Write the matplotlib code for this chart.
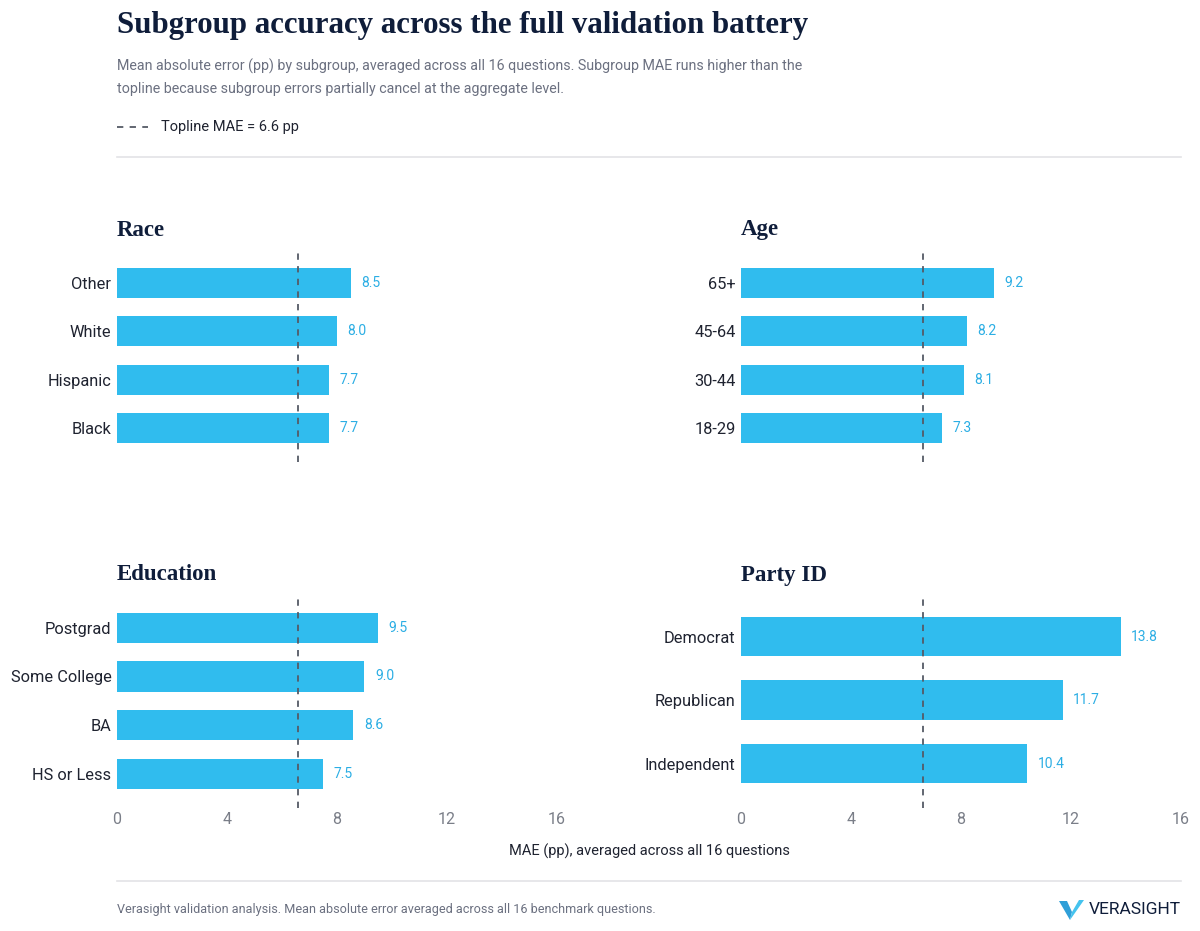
import matplotlib
matplotlib.use("Agg")
import matplotlib.pyplot as plt
from matplotlib.patches import Polygon
from matplotlib.lines import Line2D

# ---- data ----
race_labels = ["Other", "White", "Hispanic", "Black"]
race_values = [8.5, 8.0, 7.7, 7.7]
age_labels = ["65+", "45-64", "30-44", "18-29"]
age_values = [9.2, 8.2, 8.1, 7.3]
edu_labels = ["Postgrad", "Some College", "BA", "HS or Less"]
edu_values = [9.5, 9.0, 8.6, 7.5]
party_labels = ["Democrat", "Republican", "Independent"]
party_values = [13.8, 11.7, 10.4]
topline_mae = 6.6
x_ticks = [0, 4, 8, 12, 16]

SANS = ["Roboto", "DejaVu Sans"]
SERIF = ["Liberation Serif", "DejaVu Serif"]
NAVY = "#0f1d3a"
DARK = "#1f2330"
GRAY = "#6b7080"
TICK = "#7a7e88"
BAR = "#30bcee"
LBL = "#2caee4"
W, H = 1200, 931

fig = plt.figure(figsize=(W / 100, H / 100), dpi=100)
fig.patch.set_facecolor("white")


def fx(px):
    return px / W


def fy(py):
    return 1 - py / H


# header
fig.text(fx(117), fy(25), "Subgroup accuracy across the full validation battery",
         family=SERIF, weight="bold", fontsize=22.2, color=NAVY, va="center", ha="left")
fig.text(fx(117), fy(66), "Mean absolute error (pp) by subgroup, averaged across all 16 questions. "
         "Subgroup MAE runs higher than the", family=SANS, fontsize=10.25, color=GRAY,
         va="center", ha="left")
fig.text(fx(117), fy(89), "topline because subgroup errors partially cancel at the aggregate level.",
         family=SANS, fontsize=10.25, color=GRAY, va="center", ha="left")
fig.add_artist(Line2D([fx(117), fx(148)], [fy(127), fy(127)], color="#555a66", lw=1.3,
                      linestyle=(0, (3.5, 3.5)), transform=fig.transFigure))
fig.text(fx(161), fy(127), "Topline MAE = 6.6 pp", family=SANS, fontsize=10.5, color=DARK,
         va="center", ha="left")
fig.add_artist(Line2D([fx(117), fx(1181)], [fy(157), fy(157)], color="#e3e3e6", lw=1.2,
                      transform=fig.transFigure))


def panel(left_px, top_px, bottom_px, title, labels, values, show_ticks):
    ax = fig.add_axes([fx(left_px), fy(bottom_px), fx(440), (bottom_px - top_px) / H])
    n = len(labels)
    y = list(range(n))
    ax.barh(y, values, height=0.62, color=BAR, zorder=2)
    ax.axvline(topline_mae, color="#555a66", lw=1.3, linestyle=(0, (3.5, 3.5)), zorder=3)
    ax.set_xlim(0, 16)
    ax.set_ylim(n - 1 + 0.7, -0.61)
    ax.set_yticks(y)
    ax.set_yticklabels(labels, family=SANS, fontsize=11.8, color=DARK)
    for s in ax.spines.values():
        s.set_visible(False)
    ax.tick_params(axis="y", length=0, pad=4)
    ax.set_xticks(x_ticks)
    if show_ticks:
        ax.set_xticklabels([str(t) for t in x_ticks], family=SANS, fontsize=11.5, color=TICK)
        ax.tick_params(axis="x", length=0, pad=3)
    else:
        ax.tick_params(axis="x", length=0, labelbottom=False)
    for yi, v in zip(y, values):
        ax.annotate(f"{v:.1f}", (v, yi), xytext=(7.5, 0), textcoords="offset points",
                    va="center", ha="left", family=SANS, fontsize=10, color=LBL)
    fig.text(fx(left_px), fy(top_px - 23), title, family=SERIF, weight="bold", fontsize=16.5,
             color=NAVY, va="center", ha="left")
    return ax


panel(117, 253, 462, "Race", race_labels, race_values, False)
panel(741, 253, 462, "Age", age_labels, age_values, False)
panel(117, 598, 808, "Education", edu_labels, edu_values, True)
panel(741, 598, 808, "Party ID", party_labels, party_values, True)

fig.text(fx(649), fy(851), "MAE (pp), averaged across all 16 questions", family=SANS,
         fontsize=10.5, color=DARK, va="center", ha="center")

# footer
fig.add_artist(Line2D([fx(117), fx(1181)], [fy(881), fy(881)], color="#e3e3e6", lw=1.2,
                      transform=fig.transFigure))
fig.text(fx(117), fy(910), "Verasight validation analysis. Mean absolute error averaged across "
         "all 16 benchmark questions.", family=SANS, fontsize=9.1, color=GRAY,
         va="center", ha="left")

# logo
v_left = [(1059, 901), (1067, 901), (1072, 912), (1070, 920)]
v_right = [(1070, 920), (1072, 912), (1079, 900), (1084, 900)]
fig.add_artist(Polygon([(fx(a), fy(b)) for a, b in v_left], closed=True,
                       transform=fig.transFigure, color="#2f9fd8", lw=0))
fig.add_artist(Polygon([(fx(a), fy(b)) for a, b in v_right], closed=True,
                       transform=fig.transFigure, color="#45c3ee", lw=0))
fig.text(fx(1181), fy(910), "VERASIGHT", family=SANS, fontsize=12.5, color=NAVY,
         va="center", ha="right")

fig.savefig("out.png", dpi=100, facecolor="white")
